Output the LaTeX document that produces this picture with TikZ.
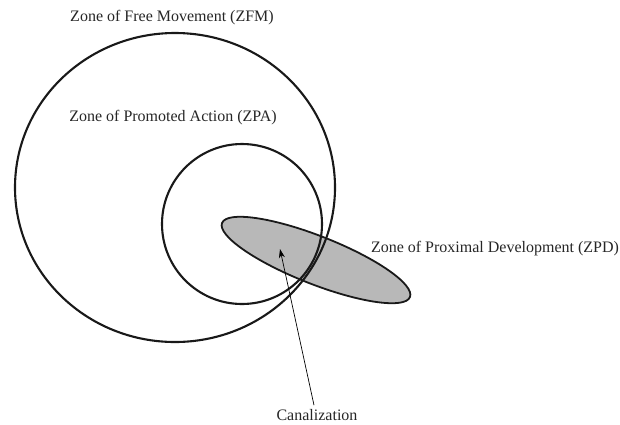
\documentclass[tikz,border=0pt]{standalone}
\usepackage{fontspec}
\setmainfont{Liberation Serif}
\usetikzlibrary{shapes.geometric,arrows.meta}
\begin{document}
\begin{tikzpicture}[x=1pt,y=-1pt,
  zone/.style={draw=black!90, line width=2.1pt, inner sep=0pt, outer sep=0pt},
  lbl/.style={font=\fontsize{16}{18}\selectfont, text=black!85, inner sep=1pt}]
\useasboundingbox (0,0) rectangle (620,424);
\node[zone, ellipse, rotate=-21.5, line width=1.8pt, fill=black!28,
  minimum width=202pt, minimum height=48pt] (zpd) at (316,260) {};
\node[zone, ellipse, minimum width=320pt, minimum height=309pt] (zfm) at (175,187.5) {};
\node[zone, circle, minimum size=160pt] (zpa) at (242,224) {};
\node[lbl] (lzfm) at (172,18) {Zone of Free Movement (ZFM)};
\node[lbl] (lzpa) at (173,118) {Zone of Promoted Action (ZPA)};
\node[lbl] (lzpd) at (495,249) {Zone of Proximal Development (ZPD)};
\node[lbl] (canal) at (317,415) {Canalization};
\coordinate (tip) at (280,249);
\draw[line width=0.7pt, -{Stealth[length=9pt,width=6pt]}] (canal.north) ++(-3,-3) -- (tip);
\end{tikzpicture}
\end{document}
